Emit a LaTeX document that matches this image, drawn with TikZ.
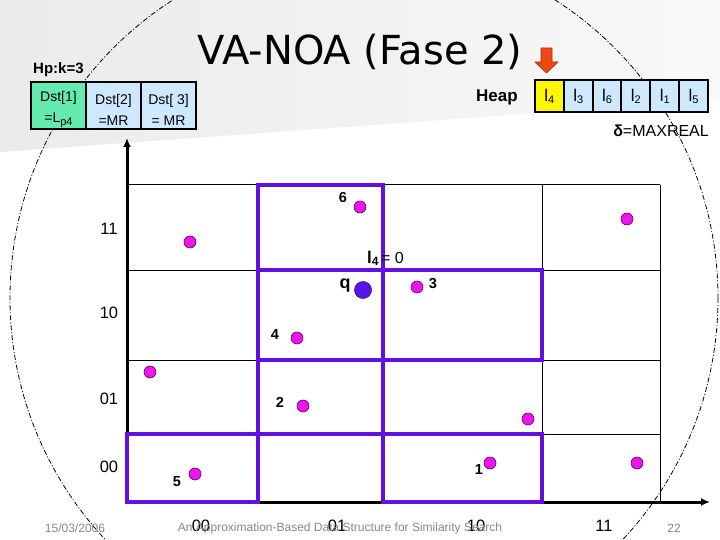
\documentclass[tikz,border=0pt]{standalone}
\usepackage{fontspec}
\setmainfont{Liberation Sans}
\newfontfamily\titlefont{DejaVu Sans}
\usetikzlibrary{arrows.meta}
\definecolor{pboxc}{RGB}{98,16,226}
\definecolor{ptc}{RGB}{238,20,238}
\definecolor{ptline}{RGB}{90,0,90}
\definecolor{qc}{RGB}{85,22,235}
\definecolor{dstgreen}{RGB}{100,236,176}
\definecolor{lblue}{RGB}{206,233,255}
\definecolor{hyellow}{RGB}{255,246,0}
\definecolor{footgray}{RGB}{135,135,135}
\definecolor{arrred}{RGB}{238,72,20}
\begin{document}
\begin{tikzpicture}[x=1pt,y=-1pt,
  thinline/.style={black,line width=1pt},
  axisline/.style={black,line width=3pt,-{Latex[length=9pt,width=8pt]}},
  pbox/.style={pboxc,line width=4pt,line join=miter},
  pt/.style={circle,fill=ptc,draw=ptline,line width=0.6pt,minimum size=12pt,inner sep=0pt},
  qpt/.style={circle,fill=qc,draw=ptline,line width=0.6pt,minimum size=17pt,inner sep=0pt},
  plabel/.style={font=\fontsize{14.5}{14.5}\selectfont\bfseries,inner sep=0pt},
  axlabel/.style={font=\fontsize{16.5}{16.5}\selectfont,inner sep=0pt},
  foot/.style={font=\fontsize{12}{12}\selectfont,text=footgray,inner sep=0pt},
  dstcell/.style={draw=black,line width=2pt,minimum width=55pt,minimum height=47pt,inner sep=0pt},
  dsttext/.style={inner sep=0pt,align=center,font=\fontsize{14}{21}\selectfont},
  heapcell/.style={draw=black,line width=2pt,minimum width=28.83pt,minimum height=32pt,inner sep=0pt,fill=lblue},
  dashdotline/.style={black,line width=0.8pt,dash pattern=on 5pt off 2pt on 1pt off 2pt}
]
\useasboundingbox (0,0) rectangle (720,540);
% template background band
\shade[left color=gray!16,right color=gray!5] (0,0) -- (720,0) -- (720,100) -- (0,152) -- cycle;

% search circle
\begin{scope}
\clip (0,0) rectangle (720,540);
\draw[dashdotline] (364,298) circle[radius=354];
\end{scope}

% grid
\foreach \yy in {185,270,360,434} \draw[thinline] (127,\yy) -- (660,\yy);
\foreach \xx in {258,383,542,660} \draw[thinline] (\xx,185) -- (\xx,502);

% axes
\coordinate (O) at (127,502);
\coordinate (ytip) at (127,138);
\coordinate (xtip) at (710,502);
\draw[axisline] (O) -- (ytip);
\draw[axisline] (O) -- (xtip);

% highlighted cells
\draw[pbox] (258,185) rectangle (383,270);
\draw[pbox] (258,270) rectangle (383,360);
\draw[pbox] (383,270) rectangle (542,360);
\draw[pbox] (258,360) rectangle (383,434);
\draw[pbox] (127,434) rectangle (258,502);
\draw[pbox] (383,434) rectangle (542,502);

% row labels
\node[axlabel] (r11) at (109,229) {11};
\node[axlabel] (r10) at (109,313) {10};
\node[axlabel] (r01) at (109,399) {01};
\node[axlabel] (r00) at (109,467) {00};
% column labels
\node[axlabel] (c00) at (201,526) {00};
\node[axlabel] (c01) at (337,526) {01};
\node[axlabel] (c10) at (476,526) {10};
\node[axlabel] (c11) at (604,526) {11};

% points
\node[pt] (u1) at (190,242) {};
\node[pt] (p6) at (360,207) {};
\node[qpt] (q) at (363,290) {};
\node[pt] (p4) at (297,338) {};
\node[pt] (p3) at (417,287) {};
\node[pt] (u2) at (627,219) {};
\node[pt] (u3) at (150,372) {};
\node[pt] (p2) at (303,406) {};
\node[pt] (p5) at (195,474) {};
\node[pt] (p1) at (490,463) {};
\node[pt] (u4) at (528,419) {};
\node[pt] (u5) at (637,463) {};

\node[plabel] (t6) at (343,198) {6};
\node[plabel,font=\fontsize{18}{18}\selectfont\bfseries] (tq) at (345,286) {q};
\node[plabel] (t4) at (275,335) {4};
\node[plabel] (t3) at (433,284) {3};
\node[plabel] (t2) at (280,402) {2};
\node[plabel] (t5) at (177,482) {5};
\node[plabel] (t1) at (479,470) {1};

\node[anchor=base west,inner sep=0pt] (lfour) at (367,263) {{\fontsize{17}{17}\selectfont\bfseries l}\raisebox{-0.45ex}{\fontsize{12}{12}\selectfont\bfseries 4}\hspace{2.5pt}{\fontsize{16}{16}\selectfont = 0}};

% title
\node[anchor=base,inner sep=0pt,font=\titlefont\fontsize{40}{40}\selectfont] (title) at (360,65) {VA-NOA (Fase 2)};

% Hp table
\node[anchor=west,inner sep=0pt,font=\fontsize{15}{15}\selectfont\bfseries] (hp) at (33,70) {Hp:k=3};
\node[dstcell,fill=dstgreen] (d1) at (58.5,105.5) {};
\node[dstcell,fill=lblue] (d2) at (113.5,105.5) {};
\node[dstcell,fill=lblue] (d3) at (168.5,105.5) {};
\node[dsttext] (d1t) at ([yshift=-4pt]d1.center) {Dst[1]\\=L\raisebox{-0.4ex}{\fontsize{11}{11}\selectfont p4}};
\node[dsttext] (d2t) at ([yshift=-4pt]d2.center) {Dst[2]\\=MR};
\node[dsttext] (d3t) at ([yshift=-4pt]d3.center) {Dst[ 3]\\= MR};

% Heap
\node[inner sep=0pt,font=\fontsize{17}{17}\selectfont\bfseries] (heaplbl) at (497,97) {Heap};
\node[heapcell,fill=hyellow] (h1) at (549.4,96) {{\fontsize{17}{17}\selectfont l}\raisebox{-0.4ex}{\fontsize{11}{11}\selectfont 4}};
\node[heapcell] (h2) at (578.25,96) {{\fontsize{17}{17}\selectfont l}\raisebox{-0.4ex}{\fontsize{11}{11}\selectfont 3}};
\node[heapcell] (h3) at (607.1,96) {{\fontsize{17}{17}\selectfont l}\raisebox{-0.4ex}{\fontsize{11}{11}\selectfont 6}};
\node[heapcell] (h4) at (635.9,96) {{\fontsize{17}{17}\selectfont l}\raisebox{-0.4ex}{\fontsize{11}{11}\selectfont 2}};
\node[heapcell] (h5) at (664.75,96) {{\fontsize{17}{17}\selectfont l}\raisebox{-0.4ex}{\fontsize{11}{11}\selectfont 1}};
\node[heapcell] (h6) at (693.6,96) {{\fontsize{17}{17}\selectfont l}\raisebox{-0.4ex}{\fontsize{11}{11}\selectfont 5}};
\node[anchor=east,inner sep=0pt,font=\fontsize{16}{16}\selectfont] (delta) at (709,131) {\textbf{δ}=MAXREAL};

% red pointer arrow
\filldraw[fill=arrred,draw=arrred!70!black,line width=0.6pt]
  (541,48) -- (552,48) -- (552,62) -- (558,62) -- (546.5,73) -- (535,62) -- (541,62) -- cycle;

% footer
\node[foot] (date) at (75,528) {15/03/2006};
\node[foot] (ftitle) at (340,528) {An Approximation-Based Data Structure for Similarity Search};
\node[foot] (pg) at (674,528) {22};
\end{tikzpicture}
\end{document}
